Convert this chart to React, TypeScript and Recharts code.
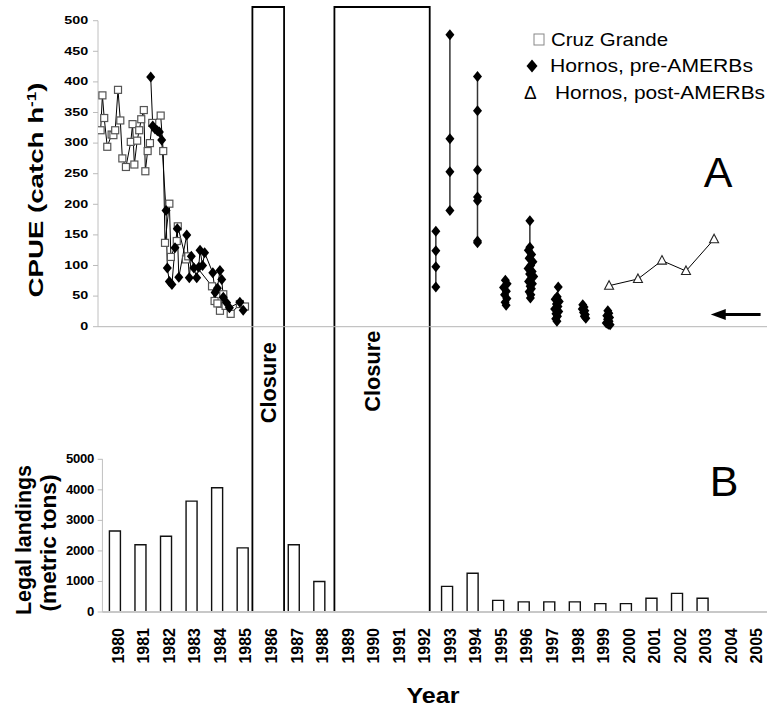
import { Bar, ComposedChart, Line, ReferenceArea, ReferenceLine, XAxis, YAxis } from "recharts"

const FONT = '"Liberation Sans", Arial, Helvetica, sans-serif'

// legal landings, metric tons (null where there is no bar)
const landingYears = [
  1980, 1981, 1982, 1983, 1984, 1985, 1986, 1987, 1988, 1989, 1990, 1991, 1992,
  1993, 1994, 1995, 1996, 1997, 1998, 1999, 2000, 2001, 2002, 2003, 2004, 2005,
]
const landingTons = [
  2650, 2200, 2480, 3630, 4070, 2100, null, 2200, 1000, null, null, null, null,
  840, 1270, 380, 330, 330, 330, 275, 275, 450, 610, 450, null, null,
]

const cpueTicks = [0, 50, 100, 150, 200, 250, 300, 350, 400, 450, 500]
const tonTicks = [0, 1000, 2000, 3000, 4000, 5000]

// closure periods (fraction of year)
const closureStart = [1985.37, 1988.58]
const closureEnd = [1986.61, 1992.31]

// CPUE, Cruz Grande
const cruzGrandeYear = [
  1979.43, 1979.5, 1979.57, 1979.69, 1979.86, 1979.93, 1980.0, 1980.11, 1980.2, 1980.28,
  1980.42, 1980.61, 1980.68, 1980.75, 1980.86, 1980.94, 1981.02, 1981.12, 1981.18, 1981.27,
  1981.36, 1981.45, 1981.78, 1981.88, 1981.95, 1982.12, 1982.18, 1982.41, 1982.45, 1982.77,
  1982.86, 1983.79, 1983.89, 1984.0, 1984.1, 1984.23, 1984.32, 1984.52, 1984.88, 1985.08,
]
const cruzGrandeCpue = [
  321, 378, 341, 294, 314, 313, 321, 387, 337, 275,
  261, 302, 331, 265, 304, 321, 339, 354, 254, 287,
  300, 333, 345, 287, 137, 201, 114, 140, 164, 110,
  115, 66, 42, 38, 26, 53, 34, 21, 37, 33,
]

// CPUE, Hornos before AMERBs, one run per sampling season
const hornos8185Year = [
  1981.39, 1981.47, 1981.56, 1981.65, 1981.73, 1981.82, 1981.99, 1982.04, 1982.12, 1982.22,
  1982.34, 1982.43, 1982.49, 1982.8, 1982.9, 1982.98, 1983.08, 1983.19, 1983.27, 1983.32,
  1983.42, 1983.5, 1983.82, 1983.91, 1984.0, 1984.1, 1984.17, 1984.23, 1984.36, 1984.47,
  1984.88, 1985.01,
]
const hornos8185Cpue = [
  408, 328, 323, 320, 318, 305, 190, 96, 74, 69,
  129, 160, 81, 150, 80, 115, 96, 80, 97, 125,
  100, 121, 88, 56, 63, 92, 77, 48, 39, 31,
  40, 27,
]
const hornos92Year = [1992.55, 1992.55, 1992.55, 1992.55]
const hornos92Cpue = [156, 124, 98, 65]
const hornos93Year = [1993.1, 1993.1, 1993.1, 1993.1]
const hornos93Cpue = [477, 307, 253, 190]
const hornos94Year = [1994.18, 1994.18, 1994.18, 1994.18, 1994.18, 1994.18, 1994.18]
const hornos94Cpue = [409, 353, 256, 212, 206, 140, 137]
const hornos95Year = [1995.27, 1995.34, 1995.2, 1995.31, 1995.24, 1995.33, 1995.26, 1995.3]
const hornos95Cpue = [76, 70, 64, 58, 52, 46, 40, 35]
const hornos96Year = [
  1996.23, 1996.23, 1996.17, 1996.3, 1996.2, 1996.35, 1996.26, 1996.16, 1996.32, 1996.22,
  1996.38, 1996.27, 1996.18, 1996.33, 1996.24, 1996.29, 1996.2, 1996.27, 1996.25,
]
const hornos96Cpue = [173, 130, 125, 118, 112, 106, 100, 95, 90, 86, 82, 78, 74, 70, 66, 62, 57, 52, 47]
const hornos97Year = [
  1997.34, 1997.3, 1997.22, 1997.38, 1997.27, 1997.33, 1997.2, 1997.36, 1997.25, 1997.31,
  1997.24, 1997.29,
]
const hornos97Cpue = [65, 49, 45, 41, 37, 33, 29, 25, 21, 17, 13, 9]
const hornos98Year = [1998.3, 1998.35, 1998.28, 1998.38, 1998.33, 1998.4, 1998.36, 1998.42]
const hornos98Cpue = [36, 32, 29, 26, 23, 20, 17, 14]
const hornos99Year = [1999.28, 1999.32, 1999.24, 1999.35, 1999.27, 1999.33, 1999.22, 1999.3, 1999.37]
const hornos99Cpue = [26, 22, 18, 15, 12, 9, 6, 4, 3]

// CPUE, Hornos after AMERBs
const hornosPostYear = [1999.33, 2000.46, 2001.4, 2002.34, 2003.44]
const hornosPostCpue = [67, 78, 108, 91, 143]

// reference level marked with the arrow
const arrowLevel = 20
const arrowFrom = 2003.31
const arrowTo = 2005.26

const W = 769
const H = 709
const MARGIN = { top: 7, right: 2, left: 18, bottom: 37 }
const AXIS_W = 40
const PLOT_LEFT = MARGIN.left + 2 * AXIS_W
const X_DOMAIN: [number, number] = [1979.327, 2005.511]
const LAND_AXIS_X = 1979.5

const toPoints = (years: number[], values: number[]) => years.map((year, i) => ({ year, cpue: values[i] }))

const landings = landingYears.map((year, i) => ({ year, tons: landingTons[i] }))
const cruzGrande = toPoints(cruzGrandeYear, cruzGrandeCpue)
const hornosPost = toPoints(hornosPostYear, hornosPostCpue)
const hornosPreRuns = [
  toPoints(hornos8185Year, hornos8185Cpue),
  toPoints(hornos92Year, hornos92Cpue),
  toPoints(hornos93Year, hornos93Cpue),
  toPoints(hornos94Year, hornos94Cpue),
  toPoints(hornos95Year, hornos95Cpue),
  toPoints(hornos96Year, hornos96Cpue),
  toPoints(hornos97Year, hornos97Cpue),
  toPoints(hornos98Year, hornos98Cpue),
  toPoints(hornos99Year, hornos99Cpue),
]

// closure label placement inside each box
const closureLabelPos = [
  { fx: 0.5, fy: 0.621 },
  { fx: 0.395, fy: 0.602 },
]

const squareDot = (p: any) =>
  p.cy == null ? (
    <g key={`s${p.index}`} />
  ) : (
    <rect key={`s${p.index}`} x={p.cx - 3.5} y={p.cy - 3.5} width={7} height={7} fill="#fff" stroke="#555" strokeWidth={1.2} />
  )

const diamondDot = (p: any) =>
  p.cy == null ? (
    <g key={`d${p.index}`} />
  ) : (
    <polygon
      key={`d${p.index}`}
      points={`${p.cx},${p.cy - 5.5} ${p.cx + 4.5},${p.cy} ${p.cx},${p.cy + 5.5} ${p.cx - 4.5},${p.cy}`}
      fill="#000"
    />
  )

const triangleDot = (p: any) =>
  p.cy == null ? (
    <g key={`t${p.index}`} />
  ) : (
    <polygon
      key={`t${p.index}`}
      points={`${p.cx},${p.cy - 5} ${p.cx + 4.5},${p.cy + 3.5} ${p.cx - 4.5},${p.cy + 3.5}`}
      fill="#fff"
      stroke="#222"
      strokeWidth={1.1}
    />
  )

const CpueTick = (p: any) => (
  <g>
    <line x1={PLOT_LEFT - 5} x2={PLOT_LEFT} y1={p.y} y2={p.y} stroke="#bbb" />
    <text
      transform={`translate(${PLOT_LEFT - 9.7},${p.y}) scale(1.15,0.8)`}
      textAnchor="end"
      dominantBaseline="central"
      fontSize={12.5}
      fontWeight="bold"
      fontFamily={FONT}
      fill="#000"
    >
      {p.payload.value}
    </text>
  </g>
)

const TonTick = (p: any) => {
  const axisX = PLOT_LEFT + 4.7
  return (
    <g>
      <line x1={axisX - 5} x2={axisX} y1={p.y} y2={p.y} stroke="#bbb" />
      <text
        transform={`translate(${axisX - 8.7},${p.y}) scale(1.05,0.95)`}
        textAnchor="end"
        dominantBaseline="central"
        fontSize={12.5}
        fontWeight="bold"
        fontFamily={FONT}
        fill="#000"
        letterSpacing={-0.3}
      >
        {p.payload.value}
      </text>
    </g>
  )
}

const YearTick = (p: any) => (
  <text
    transform={`translate(${p.x + 3},${p.y + 16}) rotate(-90)`}
    textAnchor="end"
    dominantBaseline="central"
    fontSize={16}
    fontWeight="bold"
    fontFamily={FONT}
    fill="#000"
  >
    {p.payload.value}
  </text>
)

const ClosureLabel = (p: any) => {
  const vb = p.viewBox || {}
  const cx = vb.x + vb.width * p.fx
  const cy = vb.y + vb.height * p.fy
  return (
    <text
      transform={`translate(${cx + 7.8},${cy}) rotate(-90)`}
      textAnchor="middle"
      fontSize={22}
      fontWeight="bold"
      fontFamily={FONT}
      textLength={81}
      lengthAdjust="spacingAndGlyphs"
      fill="#000"
    >
      Closure
    </text>
  )
}

const ArrowShape = (p: any) => {
  const { x1, y1, x2 } = p
  const left = Math.min(x1, x2)
  const right = Math.max(x1, x2)
  return (
    <g>
      <line x1={left + 12} x2={right} y1={y1} y2={y1} stroke="#000" strokeWidth={3} />
      <polygon points={`${left},${y1} ${left + 15},${y1 - 5.5} ${left + 15},${y1 + 5.5}`} fill="#000" />
    </g>
  )
}

function Annotations() {
  return (
    <svg width={W} height={H} style={{ position: "absolute", left: 0, top: 0, pointerEvents: "none" }} fontFamily={FONT}>
      <text
        transform="translate(42.5,190) rotate(-90)"
        textAnchor="middle"
        fontSize={21}
        fontWeight="bold"
        textLength={215}
        lengthAdjust="spacingAndGlyphs"
      >
        CPUE (catch h<tspan dy={-7} fontSize={13}>-1</tspan>
        <tspan dy={7}>)</tspan>
      </text>
      <text
        transform="translate(31,540) rotate(-90)"
        textAnchor="middle"
        fontSize={22}
        fontWeight="bold"
        textLength={150}
        lengthAdjust="spacingAndGlyphs"
      >
        Legal landings
      </text>
      <text
        transform="translate(56,543) rotate(-90)"
        textAnchor="middle"
        fontSize={22}
        fontWeight="bold"
        textLength={137}
        lengthAdjust="spacingAndGlyphs"
      >
        (metric tons)
      </text>
      <text x={433} y={703} textAnchor="middle" fontSize={22} fontWeight="bold" textLength={53} lengthAdjust="spacingAndGlyphs">
        Year
      </text>

      <rect x={534} y={34} width={10} height={11} fill="none" stroke="#888" strokeWidth={1} />
      <text x={551} y={45.5} fontSize={18.5} textLength={117} lengthAdjust="spacingAndGlyphs">
        Cruz Grande
      </text>
      <polygon points="532,59.5 537.5,66 532,72.5 526.5,66" fill="#000" />
      <text x={550} y={72} fontSize={18.5} textLength={203} lengthAdjust="spacingAndGlyphs">
        Hornos, pre-AMERBs
      </text>
      <text x={524} y={99} fontSize={19}>
        Δ
      </text>
      <text x={555} y={98.5} fontSize={18.5} textLength={210} lengthAdjust="spacingAndGlyphs">
        Hornos, post-AMERBs
      </text>

      <text x={718} y={187} textAnchor="middle" fontSize={43}>
        A
      </text>
      <text x={724} y={496} textAnchor="middle" fontSize={43}>
        B
      </text>
    </svg>
  )
}

export default function App() {
  return (
    <div style={{ position: "absolute", left: 0, top: 0, width: W, height: H, background: "#fff" }}>
      <ComposedChart width={W} height={H} data={landings} margin={MARGIN} style={{ fontFamily: FONT }}>
        <XAxis
          xAxisId={0}
          type="number"
          dataKey="year"
          domain={X_DOMAIN}
          allowDataOverflow
          ticks={landingYears}
          interval={0}
          axisLine={false}
          tickLine={false}
          tickSize={0}
          tickMargin={0}
          height={60}
          tick={YearTick}
        />
        {/* same scale, only used by the landing bars so their band is a whole year */}
        <XAxis xAxisId="bars" type="number" dataKey="year" domain={X_DOMAIN} allowDataOverflow hide />
        <YAxis
          yAxisId="cpue"
          type="number"
          domain={[-466.2, 522.4]}
          allowDataOverflow
          ticks={cpueTicks}
          interval={0}
          width={AXIS_W}
          axisLine={false}
          tickLine={false}
          tickSize={0}
          tickMargin={0}
          tick={CpueTick}
        />
        <YAxis
          yAxisId="land"
          type="number"
          domain={[0, 19810]}
          allowDataOverflow
          ticks={tonTicks}
          interval={0}
          width={AXIS_W}
          axisLine={false}
          tickLine={false}
          tickSize={0}
          tickMargin={0}
          tick={TonTick}
        />

        <ReferenceLine yAxisId="cpue" y={0} stroke="#b5b5b5" strokeWidth={1} />
        <ReferenceLine
          yAxisId="cpue"
          ifOverflow="visible"
          segment={[
            { x: X_DOMAIN[0], y: 0 },
            { x: X_DOMAIN[0], y: 500 },
          ]}
          stroke="#c0c0c0"
          strokeWidth={1}
        />
        <ReferenceLine
          yAxisId="land"
          ifOverflow="visible"
          segment={[
            { x: LAND_AXIS_X, y: 0 },
            { x: LAND_AXIS_X, y: 5000 },
          ]}
          stroke="#c0c0c0"
          strokeWidth={1}
        />
        <ReferenceLine
          yAxisId="land"
          ifOverflow="visible"
          segment={[
            { x: LAND_AXIS_X, y: 0 },
            { x: X_DOMAIN[1], y: 0 },
          ]}
          stroke="#c8c8c8"
          strokeWidth={2}
        />

        {closureStart.map((start, i) => (
          <ReferenceArea
            key={`closure-${i}`}
            yAxisId="land"
            x1={start}
            x2={closureEnd[i]}
            fill="#fff"
            fillOpacity={1}
            stroke="#000"
            strokeWidth={1.8}
            label={<ClosureLabel fx={closureLabelPos[i].fx} fy={closureLabelPos[i].fy} />}
          />
        ))}

        <Bar
          xAxisId="bars"
          yAxisId="land"
          dataKey="tons"
          barSize={11}
          fill="#fff"
          stroke="#111"
          strokeWidth={1.4}
          isAnimationActive={false}
        />

        <Line
          yAxisId="cpue"
          data={cruzGrande}
          dataKey="cpue"
          type="linear"
          stroke="#000"
          strokeWidth={1}
          dot={squareDot}
          activeDot={false}
          isAnimationActive={false}
        />
        {hornosPreRuns.map((run, i) => (
          <Line
            key={`hornos-${i}`}
            yAxisId="cpue"
            data={run}
            dataKey="cpue"
            type="linear"
            stroke={i === 0 ? "#000" : "#333"}
            strokeWidth={i === 0 ? 1 : 1.5}
            dot={diamondDot}
            activeDot={false}
            isAnimationActive={false}
          />
        ))}
        <Line
          yAxisId="cpue"
          data={hornosPost}
          dataKey="cpue"
          type="linear"
          stroke="#000"
          strokeWidth={1}
          dot={triangleDot}
          activeDot={false}
          isAnimationActive={false}
        />

        <ReferenceLine
          yAxisId="cpue"
          ifOverflow="visible"
          segment={[
            { x: arrowFrom, y: arrowLevel },
            { x: arrowTo, y: arrowLevel },
          ]}
          shape={ArrowShape}
        />
      </ComposedChart>
      <Annotations />
    </div>
  )
}
